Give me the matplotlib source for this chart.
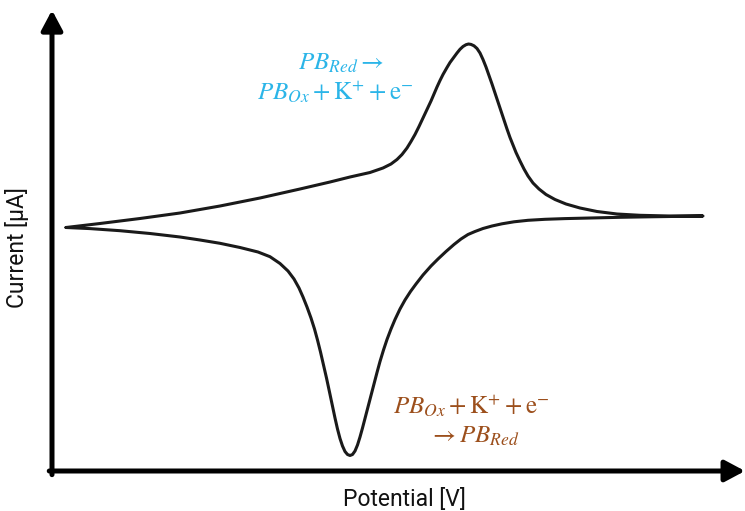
import matplotlib
matplotlib.use("Agg")
import matplotlib.pyplot as plt

plt.rcParams['mathtext.fontset'] = 'stix'

# Voltammogram (arbitrary units)
# forward (oxidation) scan, left to right
fwd_potential = [14, 48, 88, 128, 168, 208, 248, 278, 298, 318, 331, 339, 345, 350,
                 355, 359, 363, 367, 371, 375, 379, 382, 385, 388, 391, 395, 398,
                 402, 405, 408, 411, 414, 416.5, 419, 422, 425, 428, 431, 434, 437,
                 440, 443, 446, 449, 452, 455, 458, 461, 464, 468, 472, 476, 481,
                 487, 494, 503, 514, 528, 545, 565, 588, 618, 651]
fwd_current = [243.5, 247.5, 252.5, 258, 265, 273, 282, 289, 294, 298.5, 303, 307, 311.5, 316.5,
               323, 329.5, 336.5, 344.5, 353, 361.5, 370, 377, 384, 390.5, 396.5, 403.5, 408.5,
               414, 418, 421.7, 424.5, 426.3, 427, 426.6, 425.2, 422.5, 418, 411.5, 404, 395.5,
               387, 378, 369, 360, 351, 342, 333.5, 326, 318.5, 310, 302, 295, 288,
               282, 276.5, 271.5, 267, 263, 259.5, 257, 255.7, 255, 255]
# reverse (reduction) scan, right to left
rev_potential = [651, 628, 598, 568, 538, 513, 493, 476, 462, 450, 440, 431, 423, 416,
                 409, 402, 394, 386, 379, 371, 364, 358.5, 353, 348, 343, 339, 335,
                 331.5, 328, 325, 322, 319, 316, 313, 310.5, 308, 305.5, 303, 300.5,
                 298, 295.5, 293, 290.5, 288, 285.5, 283, 280.5, 277.5, 274.5, 271.5,
                 268.5, 265.5, 262.5, 259, 255, 251, 247, 242, 236, 228, 218, 206,
                 188, 168, 148, 128, 98, 68, 38, 14]
rev_current = [255, 254.7, 254.2, 253.7, 253, 252.4, 251.7, 250.7, 249.2, 247.2, 245, 242.5, 239.5, 236.5,
               232, 226.5, 219.5, 212, 205, 196, 187, 179.5, 171, 162, 151.5, 142, 131.5,
               121, 109.5, 98.5, 87, 75.5, 64, 52.5, 43, 34, 26, 20, 16.5,
               15.5, 16.5, 19.5, 25, 32.5, 42, 53, 65, 79, 93, 106,
               119, 131, 142, 153, 164, 174, 183, 192, 200, 207.5, 214.3, 219,
               223.5, 227.7, 231, 234, 237.5, 240.3, 242.4, 243.5]

x_label = "Potential [V]"
y_label = "Current [μA]"
ox_text = [r"$PB_{Red}\rightarrow$", r"$PB_{Ox}+\mathrm{K}^{+}+\mathrm{e}^{-}$"]
red_text = [r"$PB_{Ox}+\mathrm{K}^{+}+\mathrm{e}^{-}$", r"$\rightarrow PB_{Red}$"]

W, H = 745, 511
fig = plt.figure(figsize=(W / 100, H / 100), dpi=100)
ax = fig.add_axes([52 / W, 40 / H, 693 / W, 459 / H])
ax.set_xlim(0, 693)
ax.set_ylim(0, 459)
ax.axis('off')


def fpos(px, py):
    return px / W, 1 - py / H


ax.plot(fwd_potential + rev_potential, fwd_current + rev_current,
        color='#1a1a1a', lw=2.2, solid_joinstyle='round', solid_capstyle='round')

# axes drawn as arrows
arrow = dict(arrowstyle='-|>,head_length=0.6,head_width=0.32', lw=3.6,
             color='black', mutation_scale=20, shrinkA=0, shrinkB=0)
ax.annotate('', xy=(0, 1.004), xytext=(0, -0.008), xycoords='axes fraction',
            arrowprops=arrow, annotation_clip=False)
ax.annotate('', xy=(1.0, 0), xytext=(-0.004, 0), xycoords='axes fraction',
            arrowprops=arrow, annotation_clip=False)

fig.text(*fpos(404, 499), x_label, family='Roboto', fontsize=16.5,
         ha='center', va='center', color='#111111')
fig.text(*fpos(17, 248), y_label, family='Roboto', fontsize=16.5,
         ha='center', va='center', rotation=90, color='#111111')

blue = '#2bb5e8'
brown = '#9c4f1c'
fs = 18
fig.text(*fpos(341, 70), ox_text[0], fontsize=fs, color=blue, ha='center', va='baseline')
fig.text(*fpos(335, 100), ox_text[1], fontsize=fs, color=blue, ha='center', va='baseline')
fig.text(*fpos(471, 414), red_text[0], fontsize=fs, color=brown, ha='center', va='baseline')
fig.text(*fpos(474, 443), red_text[1], fontsize=fs, color=brown, ha='center', va='baseline')

fig.savefig("out.png", dpi=100)
